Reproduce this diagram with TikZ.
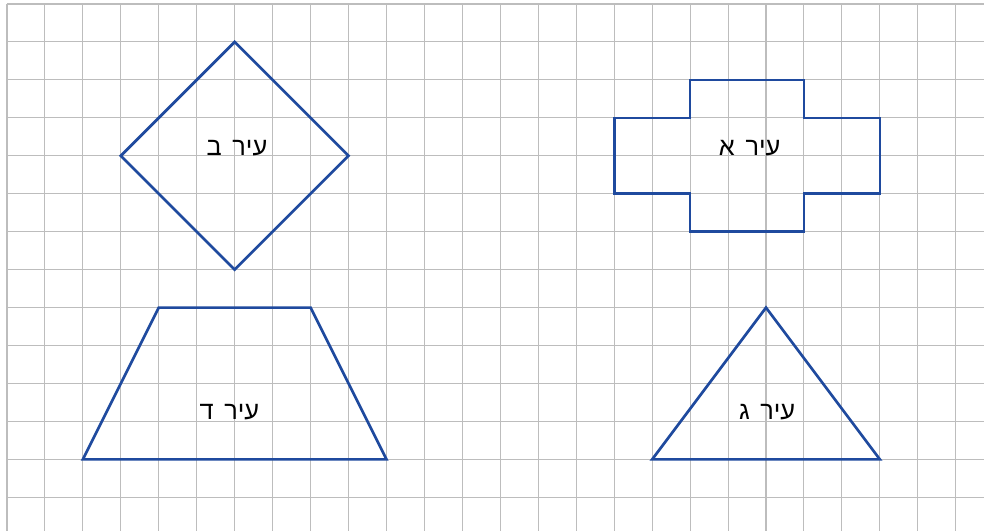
\documentclass[tikz,border=0pt]{standalone}
\usepackage{fontspec}
\setmainfont{Liberation Sans}
\newfontfamily\hebfont[Script=Hebrew]{Liberation Sans}
\TeXXeTstate=1
\usetikzlibrary{positioning}
\definecolor{CityBlue}{HTML}{1F4A9E}
\definecolor{GridGray}{HTML}{BDBDBD}
\tikzset{
  gridline/.style={draw=GridGray, line width=0.8pt},
  city/.style={draw=CityBlue, line width=2pt, line join=miter},
  citylabel/.style={font=\hebfont\fontsize{19}{22}\selectfont, text=black, inner sep=0pt, anchor=base},
}
\newcommand{\cityname}[1]{\beginR עיר\hspace{0.42em}#1\endR}

\begin{document}
\begin{tikzpicture}
        \useasboundingbox (-0.184,0.105) rectangle (25.744,-13.887);
        % grid
        \foreach \i in {0,...,25}
          \draw[gridline] (\i,0) -- (\i,-13.887);
        \foreach \j in {0,...,13}
          \draw[gridline] (0,-\j) -- (25.744,-\j);
        % cities
        \draw[city] (6,-1) -- (9,-4) -- (6,-7) -- (3,-4) -- cycle;
        \draw[city] (18,-2) -- (21,-2) -- (21,-3) -- (23,-3) -- (23,-5) -- (21,-5)
          -- (21,-6) -- (18,-6) -- (18,-5) -- (16,-5) -- (16,-3) -- (18,-3) -- cycle;
        \draw[city] (4,-8) -- (8,-8) -- (10,-12) -- (2,-12) -- cycle;
        \draw[city] (20,-8) -- (23,-12) -- (17,-12) -- cycle;
        \node[citylabel] (cityB) at (6.06,-4) {\cityname{ב}};
        \node[citylabel] (cityA) at (19.57,-4) {\cityname{א}};
        \node[citylabel] (cityD) at (5.86,-10.95) {\cityname{ד}};
        \node[citylabel] (cityG) at (20.03,-10.95) {\cityname{ג}};
      \end{tikzpicture}
\end{document}
